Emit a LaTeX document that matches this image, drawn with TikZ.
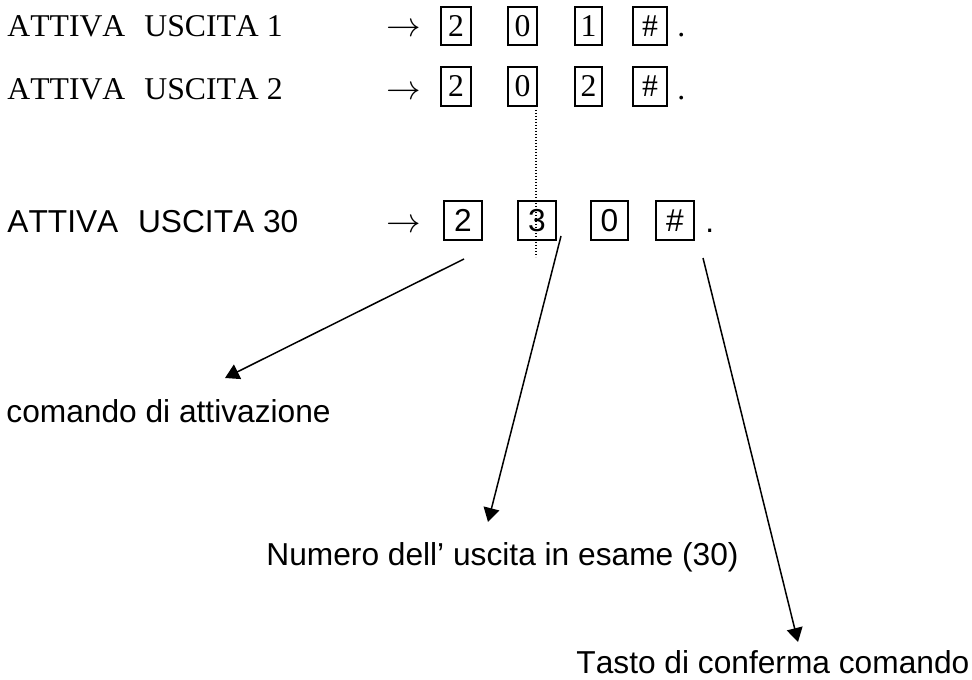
\documentclass[tikz,border=0pt]{standalone}
\usepackage{fontspec}
\setmainfont[Kerning=Off]{Liberation Serif}
\setsansfont[Kerning=Off]{Liberation Sans}
\usetikzlibrary{arrows.meta}

\begin{document}
\begin{tikzpicture}[x=0.5pt,y=-0.5pt,font=\fontsize{15.85}{19}\selectfont,
  key/.style={draw,line width=0.9pt,inner sep=0pt},
  lab/.style={anchor=base west,inner sep=0pt},
  pointer/.style={-{Triangle[length=7pt,width=8pt]},line width=0.75pt}]
  \useasboundingbox (0,0) rectangle (972,679);
  % serif rows: outputs 1 and 2
  \node[lab] (out1) at (7,37) {ATTIVA\hspace{0.6em}USCITA 1};
  \node[lab] (out2) at (7,100) {ATTIVA\hspace{0.6em}USCITA 2};
  \node[lab] (arr1) at (386,37) {$\rightarrow$};
  \node[lab] (arr2) at (386,100) {$\rightarrow$};
  \foreach \k/\x/\w/\t in {a/456/15pt/2, b/522.5/14.5pt/0, c/588.5/13.5pt/1, d/650/17pt/\#}
    \node[key,minimum width=\w,minimum height=19pt] (r1\k) at (\x,26) {\t};
  \foreach \k/\x/\w/\t in {a/456/15pt/2, b/522.5/14.5pt/0, c/588.5/13.5pt/2, d/650/17pt/\#}
    \node[key,minimum width=\w,minimum height=19.5pt] (r2\k) at (\x,86.5) {\t};
  \node[lab] (dot1) at (677,37) {.};
  \node[lab] (dot2) at (677,100) {.};
  % sans row: output 30
  \begin{scope}[font=\sffamily\fontsize{15.85}{19}\selectfont]
    \node[lab] (out30) at (7,232) {ATTIVA\hspace{0.62em}USCITA 30};
    \node[lab] (arr3) at (386,232) {$\rightarrow$};
    \foreach \k/\x/\w/\t in {a/463/19pt/2, b/537/19pt/3, c/609.5/18.5pt/0, d/675/19pt/\#}
      \node[key,minimum width=\w,minimum height=19.5pt] (r3\k) at (\x,220.5) {\t};
    \node[lab] (dot3) at (705,232) {.};
    % captions
    \node[lab] (cmd) at (6,422) {comando di attivazione};
    \node[lab] (num) at (266,565) {Numero dell’ uscita in esame (30)};
    \node[lab] (conf) at (576,673) {Tasto di conferma comando};
  \end{scope}
  % dotted guide through the second digit
  \coordinate (gTop) at (536,110);
  \coordinate (gBot) at (536,257);
  \draw[line width=0.7pt,dash pattern=on 0.6pt off 0.9pt] (gTop) -- (gBot);
  % pointers to the captions
  \coordinate (sA) at (464,259);
  \coordinate (tA) at (225,378);
  \coordinate (sB) at (561,236);
  \coordinate (tB) at (488,522);
  \coordinate (sC) at (703,258);
  \coordinate (tC) at (798,642);
  \draw[pointer] (sA) -- (tA);
  \draw[pointer] (sB) -- (tB);
  \draw[pointer] (sC) -- (tC);
\end{tikzpicture}
\end{document}
